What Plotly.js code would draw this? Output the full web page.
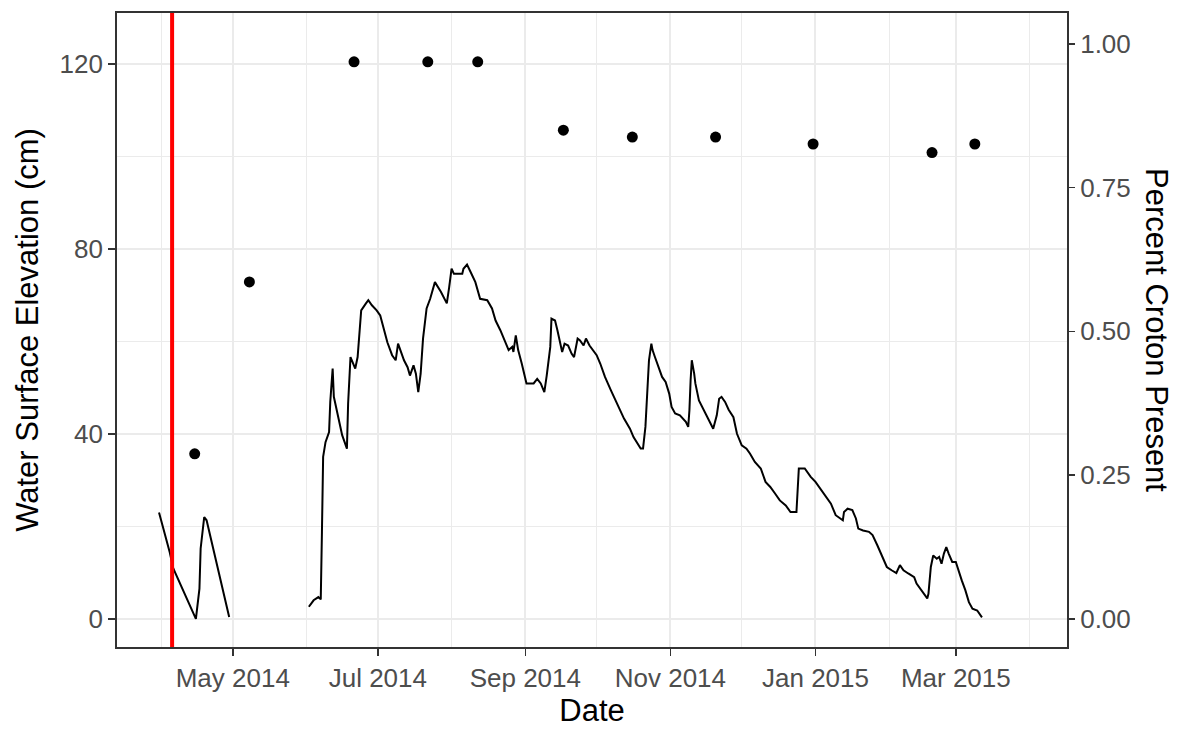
<!DOCTYPE html>
<html>
<head>
<meta charset="utf-8">
<script src="https://cdn.plot.ly/plotly-3.0.1.min.js"></script>
<style>
  html, body { margin: 0; padding: 0; background: #ffffff; }
  #chart { width: 1178px; height: 736px; }
</style>
</head>
<body>
<div id="chart"></div>
<script>
// ---------------- data ----------------
// water surface elevation (cm); null marks the logger gap
const levelDates = [
  '2014-03-31','2014-04-04 12:00','2014-04-06','2014-04-15 12:00','2014-04-17','2014-04-17 12:00','2014-04-19','2014-04-20','2014-04-29 12:00',
  '2014-05-15',
  '2014-06-02','2014-06-04','2014-06-06','2014-06-07','2014-06-07 12:00','2014-06-08','2014-06-09','2014-06-10 12:00','2014-06-11','2014-06-12',
  '2014-06-12 12:00','2014-06-14','2014-06-16','2014-06-18','2014-06-18 12:00','2014-06-19 12:00','2014-06-20 12:00','2014-06-21 12:00','2014-06-22 12:00','2014-06-23 12:00',
  '2014-06-24','2014-06-26','2014-06-27','2014-06-28 12:00','2014-06-30 12:00',
  '2014-07-02','2014-07-03 12:00','2014-07-05','2014-07-07','2014-07-08 12:00','2014-07-09 12:00','2014-07-10 12:00','2014-07-12','2014-07-13 12:00','2014-07-14 12:00',
  '2014-07-16','2014-07-17','2014-07-18','2014-07-19','2014-07-20','2014-07-21','2014-07-21 12:00','2014-07-23','2014-07-25','2014-07-27 12:00',
  '2014-07-30','2014-07-31',
  '2014-08-01','2014-08-02','2014-08-05 12:00','2014-08-06','2014-08-07 12:00','2014-08-09','2014-08-11','2014-08-13','2014-08-16','2014-08-18',
  '2014-08-19 12:00','2014-08-21 12:00','2014-08-23 12:00','2014-08-25','2014-08-26 12:00','2014-08-27','2014-08-28','2014-08-28 12:00','2014-08-29','2014-08-30 12:00',
  '2014-09-01','2014-09-01 12:00','2014-09-04 12:00','2014-09-06','2014-09-07 12:00','2014-09-09','2014-09-10','2014-09-11 12:00','2014-09-12','2014-09-13 12:00',
  '2014-09-14 12:00','2014-09-15 12:00','2014-09-16 12:00','2014-09-17 12:00','2014-09-19','2014-09-20 12:00','2014-09-21 12:00','2014-09-23','2014-09-24','2014-09-25 12:00',
  '2014-09-26 12:00','2014-09-28','2014-09-29 12:00',
  '2014-10-01','2014-10-02 12:00','2014-10-04 12:00','2014-10-07','2014-10-09 12:00','2014-10-12 12:00','2014-10-15','2014-10-16 12:00','2014-10-19 12:00','2014-10-20 12:00',
  '2014-10-21 12:00','2014-10-22','2014-10-23','2014-10-24','2014-10-24 12:00','2014-10-25 12:00','2014-10-27','2014-10-28 12:00','2014-10-30','2014-10-31 12:00',
  '2014-11-01 12:00','2014-11-03','2014-11-05','2014-11-07 12:00','2014-11-08 12:00','2014-11-09','2014-11-09 12:00','2014-11-10','2014-11-11','2014-11-11 12:00',
  '2014-11-13','2014-11-15','2014-11-17','2014-11-19','2014-11-20 12:00','2014-11-21 12:00','2014-11-22 12:00','2014-11-24','2014-11-25 12:00','2014-11-27 12:00',
  '2014-11-29',
  '2014-12-01','2014-12-03','2014-12-04 12:00','2014-12-06 12:00','2014-12-09','2014-12-11','2014-12-13','2014-12-15','2014-12-17','2014-12-19 12:00',
  '2014-12-21 12:00','2014-12-24','2014-12-24 12:00','2014-12-25','2014-12-27 12:00','2014-12-30',
  '2015-01-01','2015-01-03','2015-01-05','2015-01-07 12:00','2015-01-09 12:00','2015-01-11 12:00','2015-01-12 12:00','2015-01-13','2015-01-14 12:00','2015-01-16 12:00',
  '2015-01-18','2015-01-19','2015-01-21','2015-01-23 12:00','2015-01-25','2015-01-27','2015-01-29','2015-01-31',
  '2015-02-02','2015-02-04','2015-02-05 12:00','2015-02-07','2015-02-09','2015-02-11 12:00','2015-02-12 12:00','2015-02-15','2015-02-17','2015-02-17 12:00',
  '2015-02-18 12:00','2015-02-19 12:00','2015-02-21','2015-02-22','2015-02-23','2015-02-24','2015-02-25','2015-02-26','2015-02-27 12:00',
  '2015-03-01','2015-03-02','2015-03-03 12:00','2015-03-05','2015-03-06 12:00','2015-03-08','2015-03-10','2015-03-12'
];
const levelCm = [
  23.0, 14.4, 10.9, 0.0, 6.5, 15.2, 22.0, 21.3, 0.4,
  null,
  2.6, 4.0, 4.7, 4.2, 18.8, 35.0, 38.2, 40.4, 46.9, 54.1,
  48.0, 44.4, 39.7, 36.8, 46.5, 56.6, 55.2, 54.1, 56.6, 62.7,
  66.7, 68.2, 68.9, 67.8, 66.7,
  65.6, 62.4, 59.8, 57.0, 55.9, 59.5, 58.1, 55.9, 54.4, 52.6,
  54.8, 53.0, 49.0, 53.0, 60.6, 65.6, 67.1, 69.2, 72.8, 70.7,
  68.2, 71.7,
  75.7, 74.6, 74.6, 75.7, 76.6, 75.0, 72.8, 69.2, 68.9, 67.1,
  64.5, 62.4, 59.8, 58.1, 58.8, 57.7, 61.3, 59.8, 58.1, 55.2,
  51.6, 50.9, 50.9, 51.9, 50.9, 49.0, 52.6, 58.8, 64.9, 64.5,
  62.4, 60.2, 57.7, 59.5, 59.1, 57.3, 56.6, 60.6, 60.2, 59.1,
  60.6, 59.1, 58.1,
  57.0, 55.2, 52.3, 49.4, 46.5, 43.3, 41.1, 39.3, 36.8, 36.8,
  41.5, 47.2, 55.9, 59.5, 58.1, 56.6, 54.4, 52.3, 51.2, 48.7,
  45.8, 44.4, 44.0, 42.6, 41.5, 45.1, 51.6, 55.9, 53.0, 50.9,
  47.2, 45.1, 42.9, 41.1, 44.0, 47.6, 48.0, 46.9, 45.2, 43.6,
  40.0,
  37.5, 36.8, 35.7, 33.9, 32.5, 29.6, 28.5, 27.1, 25.6, 24.5,
  23.1, 23.1, 28.5, 32.5, 32.5, 30.7,
  29.6, 28.2, 26.7, 24.9, 22.4, 21.7, 21.3, 23.1, 23.8, 23.5,
  21.7, 19.5, 19.1, 18.8, 18.1, 15.9, 13.4, 11.2,
  10.5, 9.9, 11.6, 10.5, 9.8, 9.0, 7.6, 5.8, 4.4, 5.4,
  11.2, 13.7, 13.0, 13.4, 11.9, 14.1, 15.5, 14.1, 12.3,
  12.3, 10.5, 8.3, 6.2, 3.6, 2.2, 1.8, 0.3
];

// proportion of plots with Croton present (right axis)
const crotonDates = ['2014-04-15','2014-05-08','2014-06-21','2014-07-22','2014-08-12',
                     '2014-09-17','2014-10-16','2014-11-20','2014-12-31','2015-02-19','2015-03-09'];
const crotonPct   = [0.287, 0.586, 0.969, 0.969, 0.969,
                     0.850, 0.838, 0.838, 0.826, 0.811, 0.826];

// event marker date (red vertical line)
const eventDate = '2014-04-05 12:00';

// axis ticks
const xTickDates  = ['2014-05-01','2014-07-01','2014-09-01','2014-11-01','2015-01-01','2015-03-01'];
const xTickLabels = ['May 2014','Jul 2014','Sep 2014','Nov 2014','Jan 2015','Mar 2015'];
const xMinorDates = ['2014-04-01','2014-06-01','2014-08-01','2014-10-01','2014-12-01','2015-02-01','2015-04-01'];
const yTicks      = [0, 40, 80, 120];
const yMinorTicks = [20, 60, 100];
const y2Ticks     = [0, 0.25, 0.5, 0.75, 1.0];
const y2Labels    = ['0.00','0.25','0.50','0.75','1.00'];

// ---------------- chart ----------------
const Y_RANGE = [-6.1, 131.0];
const SEC_SCALE = 124.3;               // 1.00 on the right axis = 124.3 cm on the left
const X_RANGE = ['2014-03-13 08:00', '2015-04-16 18:00'];

const FONT = '"Liberation Sans", Arial, Helvetica, sans-serif';
const TICK_COL = '#4d4d4d';
const LINE_COL = '#333333';
const GRID_COL = '#ebebeb';

const traces = [
  {
    type: 'scatter', mode: 'lines',
    x: levelDates, y: levelCm,
    connectgaps: false,
    line: { color: '#000000', width: 2 },
    hoverinfo: 'skip', showlegend: false
  },
  {
    type: 'scatter', mode: 'markers',
    x: crotonDates, y: crotonPct, yaxis: 'y2',
    marker: { color: '#000000', size: 11 },
    hoverinfo: 'skip', showlegend: false
  }
];

const axisCommon = {
  ticks: 'outside', ticklen: 7, tickwidth: 1.5, tickcolor: LINE_COL,
  tickfont: { family: FONT, size: 26, color: TICK_COL },
  zeroline: false, automargin: false
};

const layout = {
  width: 1178, height: 736,
  margin: { l: 117, r: 111, t: 13, b: 89, pad: 0 },
  paper_bgcolor: '#ffffff', plot_bgcolor: '#ffffff',
  showlegend: false,
  font: { family: FONT, color: TICK_COL },
  xaxis: Object.assign({}, axisCommon, {
    type: 'date', range: X_RANGE,
    tickmode: 'array', tickvals: xTickDates, ticktext: xTickLabels,
    showgrid: true, gridcolor: GRID_COL, gridwidth: 2,
    minor: { tickmode: 'array', tickvals: xMinorDates, showgrid: true, gridcolor: GRID_COL, gridwidth: 1.4, ticks: '' },
    showline: true, mirror: true, linecolor: LINE_COL, linewidth: 1.8,
    title: { text: 'Date', font: { family: FONT, size: 31, color: '#000000' }, standoff: 6 }
  }),
  yaxis: Object.assign({}, axisCommon, {
    range: Y_RANGE,
    tickmode: 'array', tickvals: yTicks,
    showgrid: true, gridcolor: GRID_COL, gridwidth: 2,
    minor: { tickmode: 'array', tickvals: yMinorTicks, showgrid: true, gridcolor: GRID_COL, gridwidth: 1.4, ticks: '' },
    showline: true, mirror: true, linecolor: LINE_COL, linewidth: 1.8,
    title: { text: 'Water Surface Elevation (cm)', font: { family: FONT, size: 31, color: '#000000' }, standoff: 12 }
  }),
  yaxis2: Object.assign({}, axisCommon, {
    overlaying: 'y', side: 'right',
    range: Y_RANGE.map(v => v / SEC_SCALE),
    tickmode: 'array', tickvals: y2Ticks, ticktext: y2Labels,
    showgrid: false, showline: false
  }),
  shapes: [{
    type: 'line', xref: 'x', yref: 'paper',
    x0: eventDate, x1: eventDate, y0: 0, y1: 1,
    line: { color: '#ff0000', width: 4 }
  }],
  annotations: [{
    text: 'Percent Croton Present',
    xref: 'paper', yref: 'paper', x: 1.0947, y: 0.5,
    xanchor: 'center', yanchor: 'middle',
    textangle: 90, showarrow: false,
    font: { family: FONT, size: 31, color: '#000000' }
  }]
};

Plotly.newPlot('chart', traces, layout, { displayModeBar: false, staticPlot: true });
</script>
</body>
</html>
